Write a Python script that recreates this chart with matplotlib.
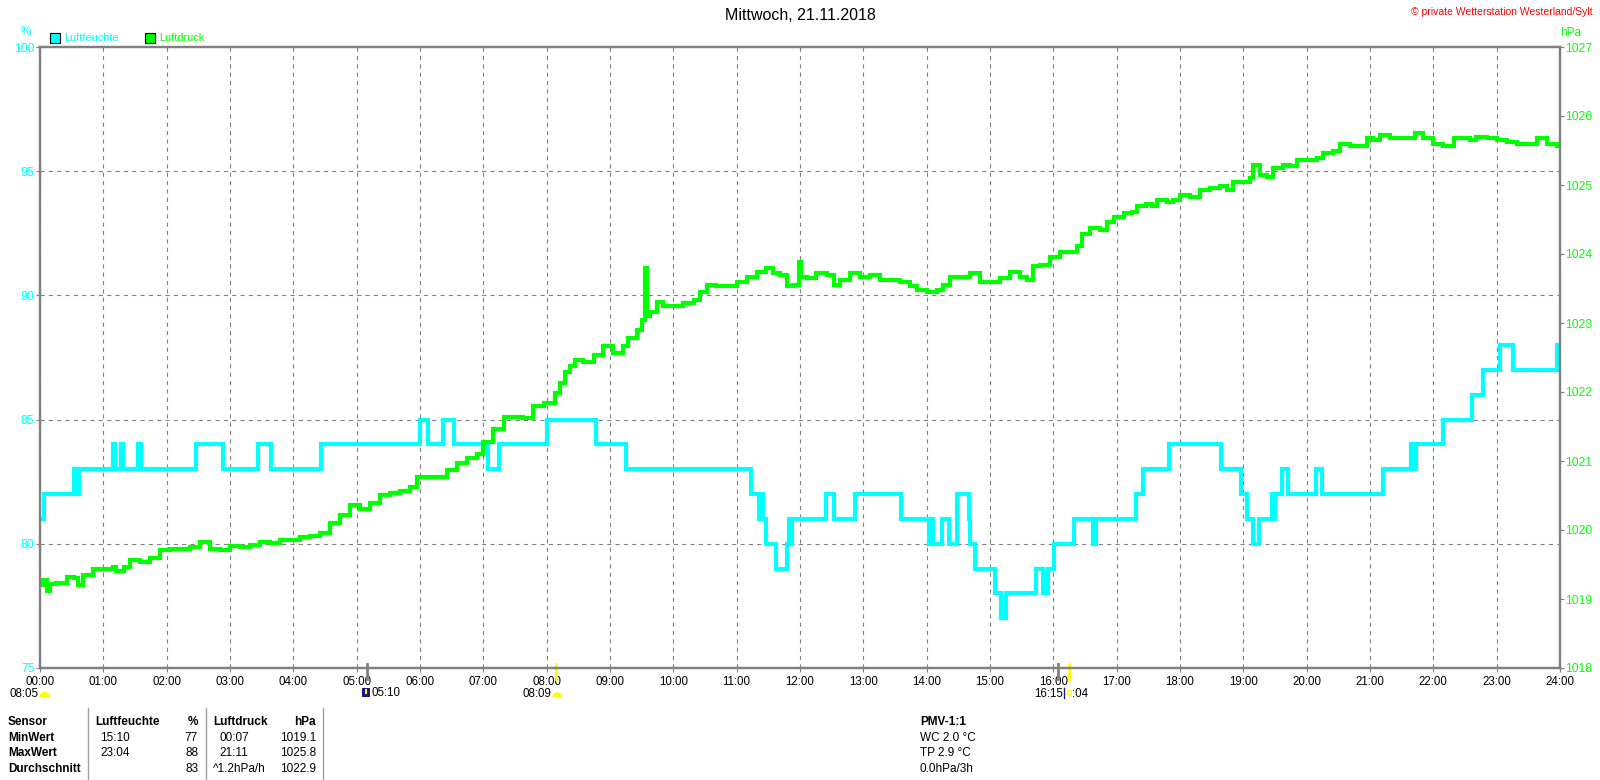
import numpy as np
import matplotlib.pyplot as plt
from matplotlib.patches import Rectangle, Wedge
from matplotlib.transforms import blended_transform_factory

plt.rcParams['font.family'] = ['Liberation Sans', 'DejaVu Sans']
plt.rcParams['lines.scale_dashes'] = False

# Luftfeuchte (%) - step changes, hour of day and new value
humHours = [0.00, 0.06, 0.53, 0.60, 0.62, 1.16, 1.19, 1.28, 1.31, 1.54, 1.59,
            2.47, 2.89, 3.44, 3.64, 4.43, 6.00, 6.12, 6.37, 6.54, 7.08, 7.24,
            8.00, 8.78, 9.25, 11.23, 11.35, 11.37, 11.42, 11.46, 11.62, 11.79,
            11.82, 11.84, 11.87, 12.41, 12.53, 12.87, 13.59, 14.03, 14.07, 14.10,
            14.24, 14.35, 14.48, 14.67, 14.69, 14.77, 15.08, 15.17, 15.25, 15.72,
            15.83, 15.91, 16.01, 16.32, 16.63, 16.68, 17.30, 17.41, 17.82, 18.65,
            18.96, 19.05, 19.16, 19.24, 19.45, 19.48, 19.50, 19.61, 19.70, 20.15,
            20.24, 21.21, 21.65, 21.70, 21.73, 22.16, 22.61, 22.78, 23.06, 23.25,
            23.96, 24.00]
humValues = [81, 82, 83, 82, 83, 84, 83, 84, 83, 84, 83,
             84, 83, 84, 83, 84, 85, 84, 85, 84, 83, 84,
             85, 84, 83, 82, 81, 82, 81, 80, 79, 80,
             81, 80, 81, 82, 81, 82, 81, 80, 81, 80,
             81, 80, 82, 81, 80, 79, 78, 77, 78, 79,
             78, 79, 80, 81, 80, 81, 82, 83, 84, 83,
             82, 81, 80, 81, 82, 81, 82, 83, 82, 83,
             82, 83, 84, 83, 84, 85, 86, 87, 88, 87,
             88, 88]

# Luftdruck (hPa)
presHours = [0.00, 0.05, 0.11, 0.15, 0.26, 0.42, 0.53, 0.60, 0.68, 0.84, 1.00, 1.16, 1.20,
             1.32, 1.42, 1.58, 1.74, 1.90, 2.05, 2.21, 2.37, 2.53, 2.68, 2.84,
             3.00, 3.16, 3.32, 3.47, 3.63, 3.79, 3.95, 4.11, 4.26, 4.42, 4.58,
             4.74, 4.90, 5.05, 5.21, 5.37, 5.53, 5.69, 5.84, 5.95, 6.11, 6.26,
             6.42, 6.58, 6.74, 6.90, 7.00, 7.16, 7.32, 7.48, 7.63, 7.79, 7.95,
             8.05, 8.13, 8.21, 8.29, 8.37, 8.45, 8.58, 8.74, 8.89, 9.05, 9.21,
             9.29, 9.42, 9.50, 9.56, 9.58, 9.63, 9.74, 9.84, 10.00, 10.16, 10.32,
             10.42, 10.53, 10.68, 10.84, 11.00, 11.16, 11.32, 11.47, 11.58, 11.68,
             11.79, 11.89, 11.99, 12.01, 12.11, 12.26, 12.42, 12.53, 12.63, 12.79,
             12.95, 13.11, 13.26, 13.42, 13.58, 13.74, 13.84, 14.00, 14.16, 14.26,
             14.37, 14.53, 14.68, 14.84, 15.00, 15.16, 15.32, 15.47, 15.58, 15.68,
             15.79, 15.95, 16.11, 16.26, 16.37, 16.45, 16.58, 16.74, 16.84, 16.95,
             17.11, 17.24, 17.32, 17.47, 17.55, 17.63, 17.79, 17.89, 18.00, 18.16,
             18.32, 18.47, 18.63, 18.74, 18.84, 19.00, 19.11, 19.16, 19.26, 19.37,
             19.47, 19.63, 19.74, 19.84, 20.00, 20.16, 20.26, 20.42, 20.53, 20.68,
             20.84, 20.95, 21.05, 21.16, 21.32, 21.47, 21.63, 21.71, 21.84, 22.00,
             22.16, 22.32, 22.47, 22.58, 22.68, 22.84, 23.00, 23.16, 23.32, 23.47,
             23.63, 23.79, 23.95, 24.00]
presValues = [1019.20, 1019.28, 1019.12, 1019.22, 1019.23, 1019.32, 1019.30, 1019.20, 1019.35, 1019.44, 1019.44, 1019.46, 1019.40,
              1019.47, 1019.56, 1019.54, 1019.59, 1019.71, 1019.73, 1019.73, 1019.76, 1019.83, 1019.73, 1019.71,
              1019.77, 1019.76, 1019.78, 1019.83, 1019.81, 1019.86, 1019.86, 1019.90, 1019.91, 1019.95, 1020.10,
              1020.22, 1020.36, 1020.31, 1020.39, 1020.51, 1020.53, 1020.56, 1020.63, 1020.77, 1020.77, 1020.77,
              1020.87, 1020.97, 1021.05, 1021.10, 1021.28, 1021.47, 1021.64, 1021.64, 1021.62, 1021.79, 1021.84,
              1021.84, 1021.98, 1022.13, 1022.29, 1022.37, 1022.46, 1022.44, 1022.54, 1022.66, 1022.56, 1022.66,
              1022.78, 1022.90, 1023.04, 1023.79, 1023.10, 1023.16, 1023.31, 1023.24, 1023.24, 1023.29, 1023.33,
              1023.45, 1023.55, 1023.54, 1023.54, 1023.59, 1023.67, 1023.74, 1023.79, 1023.72, 1023.70,
              1023.53, 1023.55, 1023.89, 1023.67, 1023.65, 1023.72, 1023.70, 1023.55, 1023.62, 1023.72,
              1023.67, 1023.70, 1023.62, 1023.63, 1023.60, 1023.53, 1023.48, 1023.45, 1023.48, 1023.55,
              1023.67, 1023.67, 1023.72, 1023.60, 1023.60, 1023.65, 1023.74, 1023.67, 1023.62, 1023.82,
              1023.84, 1023.96, 1024.03, 1024.03, 1024.11, 1024.29, 1024.37, 1024.35, 1024.47, 1024.54,
              1024.59, 1024.61, 1024.69, 1024.73, 1024.69, 1024.78, 1024.76, 1024.78, 1024.86, 1024.83,
              1024.93, 1024.95, 1024.98, 1024.93, 1025.05, 1025.05, 1025.10, 1025.29, 1025.14, 1025.12,
              1025.24, 1025.29, 1025.27, 1025.36, 1025.36, 1025.39, 1025.46, 1025.49, 1025.59, 1025.56,
              1025.56, 1025.68, 1025.65, 1025.72, 1025.68, 1025.68, 1025.68, 1025.75, 1025.68, 1025.60,
              1025.56, 1025.68, 1025.68, 1025.65, 1025.70, 1025.68, 1025.65, 1025.63, 1025.60, 1025.60,
              1025.68, 1025.60, 1025.56, 1025.56]

hourLabels = ['%02d:00' % h for h in range(25)]
humTicks = [75, 80, 85, 90, 95, 100]
presTicks = list(range(1018, 1028))

# sun / moon events shown under the time axis
sunHours = [8 + 9 / 60, 16 + 15 / 60]
moonHours = [5 + 10 / 60, 16 + 4 / 60]

# summary table
tableRows = [['Sensor', 'Luftfeuchte', '%', 'Luftdruck', 'hPa'],
             ['MinWert', '15:10', '77', '00:07', '1019.1'],
             ['MaxWert', '23:04', '88', '21:11', '1025.8'],
             ['Durchschnitt', '', '83', '^1.2hPa/h', '1022.9']]
pmvLines = ['PMV-1:1', 'WC 2.0 °C', 'TP 2.9 °C', '0.0hPa/3h']

W, H = 1600, 780
CYAN = '#00FFFF'
GREEN = '#00FF00'
GRAY = '#808080'
FS = 8.5

fig = plt.figure(figsize=(W / 100, H / 100), dpi=100)
ax = fig.add_axes([40 / W, 1 - 668 / H, 1520 / W, 621 / H])
ax2 = ax.twinx()

ax.set_xlim(0, 24)
ax.set_ylim(75, 100)
ax2.set_ylim(1018, 1027)

ax.plot(humHours, humValues, color=CYAN, lw=3, drawstyle='steps-post',
        solid_joinstyle='miter')
ax2.plot(presHours, presValues, color=GREEN, lw=3, drawstyle='steps-post',
         solid_joinstyle='miter')

ax.set_xticks(range(25))
ax.set_xticklabels(hourLabels)
ax.set_yticks(humTicks)
ax2.set_yticks(presTicks)
ax.grid(True, color=GRAY, ls=(0, (3, 3)), lw=0.8)
ax.tick_params(axis='x', labelsize=8.3, length=3, color=GRAY, pad=3)
ax.tick_params(axis='y', labelsize=8.7, labelcolor=CYAN, length=3, color=GRAY, pad=1)
ax2.tick_params(axis='y', labelsize=8.7, labelcolor=GREEN, length=3, color=GRAY, pad=1)
for a in (ax, ax2):
    for s in a.spines.values():
        s.set_color(GRAY)
        s.set_linewidth(1.6)

# event ticks below the axis
tr = blended_transform_factory(ax.transData, ax.transAxes)
for h in moonHours:
    ax.plot([h, h], [0.006, -0.018], color=GRAY, lw=2, transform=tr, clip_on=False)
for h in sunHours:
    ax.plot([h, h], [0.006, -0.018], color='#FFFF00', lw=2, transform=tr, clip_on=False)

# overlay in pixel coordinates for all the text around the plot
ov = fig.add_axes([0, 0, 1, 1])
ov.set_xlim(0, W)
ov.set_ylim(H, 0)
ov.axis('off')

def hx(h):
    return 40 + h * 1520 / 24

ov.text(800, 15, 'Mittwoch, 21.11.2018', ha='center', va='center', fontsize=11.5)
ov.text(1593, 12, '© private Wetterstation Westerland/Sylt', ha='right', va='center',
        fontsize=7.5, color='red')
ov.text(26, 32, '%', ha='center', va='center', fontsize=8.5, color=CYAN)
ov.text(1571, 33, 'hPa', ha='center', va='center', fontsize=8.5, color=GREEN)

ov.add_patch(Rectangle((50, 33), 9.5, 9.5, facecolor=CYAN, edgecolor='black', lw=0.8))
ov.text(64, 38, 'Luftfeuchte', va='center', fontsize=7.8, color=CYAN)
ov.add_patch(Rectangle((145, 33), 9.5, 9.5, facecolor=GREEN, edgecolor='black', lw=0.8))
ov.text(159, 38, 'Luftdruck', va='center', fontsize=7.8, color=GREEN)

# sun / moon labels
ov.text(9, 694, '08:05', va='center', fontsize=8.3)
ov.add_patch(Wedge((44.5, 697), 4.5, 180, 360, color='#FFFF00'))
mx = hx(moonHours[0])
ov.add_patch(Rectangle((mx - 5, 688), 8, 9, facecolor='#1A1A80', edgecolor='none'))
ov.add_patch(Rectangle((mx - 2, 689), 2, 5, facecolor='#FFFF00', edgecolor='none'))
ov.text(mx + 4, 693.5, '05:10', va='center', fontsize=8.3)
sx = hx(sunHours[0])
ov.text(sx - 5, 694, '08:09', ha='right', va='center', fontsize=8.3)
ov.add_patch(Wedge((sx + 1, 697), 4, 180, 360, color='#FFFF00'))
sx2 = hx(sunHours[1])
ov.text(sx2 - 6, 694, '16:15', ha='right', va='center', fontsize=8.3)
ov.plot([sx2 - 5, sx2 - 5], [688, 698], color='#1A1A80', lw=1)
ov.add_patch(Rectangle((sx2 - 2.5, 690), 4, 4, facecolor='none', edgecolor='#FFFF00', lw=1))
ov.text(sx2 + 3, 694, ':04', va='center', fontsize=8.3)

# summary table
rowY = [722, 738, 753, 769]
for xs in [88.3, 205.7, 323.3]:
    ov.plot([xs, xs], [708, 780], color='#A0A0A0', lw=1)
for i, row in enumerate(tableRows):
    weight = 'bold' if i == 0 else 'normal'
    ov.text(8, rowY[i], row[0], va='center', fontsize=FS, fontweight='bold')
    ov.text(95 if i == 0 else 100, rowY[i], row[1], va='center', fontsize=FS, fontweight=weight)
    ov.text(198, rowY[i], row[2], ha='right', va='center', fontsize=FS, fontweight=weight)
    ov.text(213 if i in (0, 3) else 219, rowY[i], row[3], va='center', fontsize=FS, fontweight=weight)
    ov.text(316, rowY[i], row[4], ha='right', va='center', fontsize=FS, fontweight=weight)
for i, line in enumerate(pmvLines):
    ov.text(920, rowY[i], line, va='center', fontsize=FS,
            fontweight='bold' if i == 0 else 'normal')

fig.savefig('out.png', dpi=100, facecolor='white')
